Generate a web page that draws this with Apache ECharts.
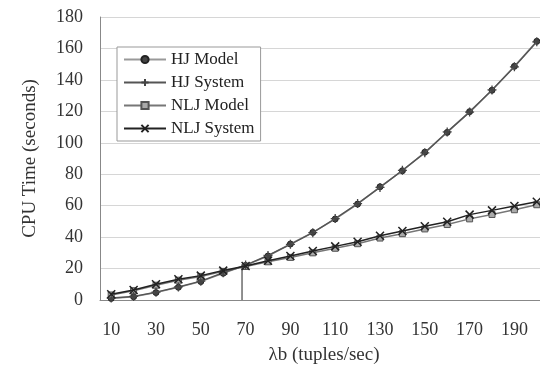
<!DOCTYPE html>
<html>
<head>
<meta charset="utf-8">
<script src="https://cdn.jsdelivr.net/npm/echarts@6/dist/echarts.min.js"></script>
<style>
  html, body { margin: 0; padding: 0; background: #fff; }
  #chart { width: 540px; height: 367px; }
</style>
</head>
<body>
<div id="chart"></div>
<script>
const rates = ["10", "20", "30", "40", "50", "60", "70", "80", "90", "100",
  "110", "120", "130", "140", "150", "160", "170", "180", "190", "200"];
const hjModel = [1, 2.1, 4.7, 8.1, 11.7, 17, 22, 28, 35.6, 43, 51.5, 61, 72, 82.2, 94, 106.6, 119.8, 133.4, 148.6, 164.5];
const hjSystem = [1.2, 2.3, 5, 8.3, 12, 17.3, 22.2, 28.3, 35.4, 42.8, 51.8, 61.3, 71.6, 82.5, 93.6, 106.9, 119.5, 133.6, 148.3, 164.2];
const nljModel = [3.2, 5.9, 9.4, 12.6, 15, 18.2, 21.3, 24.3, 27.1, 30, 32.9, 35.8, 39.4, 42.2, 45.2, 48, 51.6, 54.4, 57.4, 60.6];
const nljSystem = [3.6, 6.4, 10, 13.2, 15.5, 18.7, 21.6, 25, 28, 31.2, 34.1, 37.1, 40.9, 43.9, 46.9, 49.8, 54.3, 57, 59.8, 62.5];
// drop line at the crossing of HJ and NLJ
const crossing = [[68.4, 21.6], [68.4, 0]];

const font = "'Liberation Serif', 'DejaVu Serif', serif";
const plusPath = "path://M0,-6 L0,6 M-6,0 L6,0";
const crossPath = "path://M-5,-5 L5,5 M-5,5 L5,-5";

const chart = echarts.init(document.getElementById("chart"));

chart.setOption({
  animation: false,
  textStyle: { fontFamily: font, color: "#333" },
  grid: { left: 100, right: -8, top: 17, bottom: 67, outerBoundsMode: "none" },
  legend: {
    orient: "vertical",
    left: 117,
    top: 47,
    padding: [4, 6, 4, 6],
    itemWidth: 42,
    itemHeight: 9,
    itemGap: 6,
    backgroundColor: "#fff",
    borderColor: "#999",
    borderWidth: 1,
    textStyle: { fontFamily: font, fontSize: 17, color: "#222" },
    data: ["HJ Model", "HJ System", "NLJ Model", "NLJ System"],
  },
  xAxis: [
    {
      type: "category",
      data: rates,
      name: "λb (tuples/sec)",
      nameLocation: "middle",
      nameGap: 46,
      nameTextStyle: { fontFamily: font, fontSize: 19, color: "#333" },
      axisLine: { lineStyle: { color: "#888" } },
      axisTick: { inside: true, length: 6, lineStyle: { color: "#888" } },
      axisLabel: { interval: 1, margin: 21, fontSize: 18, color: "#333" },
      splitLine: { show: false },
    },
    {
      type: "value",
      min: 5,
      max: 205,
      show: false,
    },
  ],
  yAxis: {
    type: "value",
    min: 0,
    max: 180,
    interval: 20,
    name: "CPU Time (seconds)",
    nameLocation: "middle",
    nameGap: 60,
    nameTextStyle: { fontFamily: font, fontSize: 19, color: "#333" },
    axisLine: { show: true, lineStyle: { color: "#888" } },
    axisTick: { show: false },
    axisLabel: { margin: 17, fontSize: 18, color: "#333" },
    splitLine: { lineStyle: { color: "#d6d6d6" } },
  },
  series: [
    {
      name: "HJ Model",
      type: "line",
      data: hjModel,
      symbol: "circle",
      symbolSize: 6,
      lineStyle: { color: "#999", width: 1.5 },
      itemStyle: { color: "#444", borderColor: "#222", borderWidth: 1 },
      z: 2,
    },
    {
      name: "HJ System",
      type: "line",
      data: hjSystem,
      symbol: plusPath,
      symbolSize: 9,
      lineStyle: { color: "#555", width: 1.5 },
      itemStyle: { color: "#555", borderColor: "#444", borderWidth: 1.3 },
      z: 3,
    },
    {
      name: "NLJ Model",
      type: "line",
      data: nljModel,
      symbol: "rect",
      symbolSize: 6,
      lineStyle: { color: "#777", width: 1.5 },
      itemStyle: { color: "#aaa", borderColor: "#555", borderWidth: 1 },
      z: 2,
    },
    {
      name: "NLJ System",
      type: "line",
      data: nljSystem,
      symbol: crossPath,
      symbolSize: 8,
      lineStyle: { color: "#222", width: 1.5 },
      itemStyle: { color: "#222", borderColor: "#222", borderWidth: 1.5 },
      z: 4,
    },
    {
      name: "crossing",
      type: "line",
      xAxisIndex: 1,
      data: crossing,
      symbol: "none",
      lineStyle: { color: "#222", width: 1 },
      silent: true,
      z: 1,
    },
  ],
});
</script>
</body>
</html>
